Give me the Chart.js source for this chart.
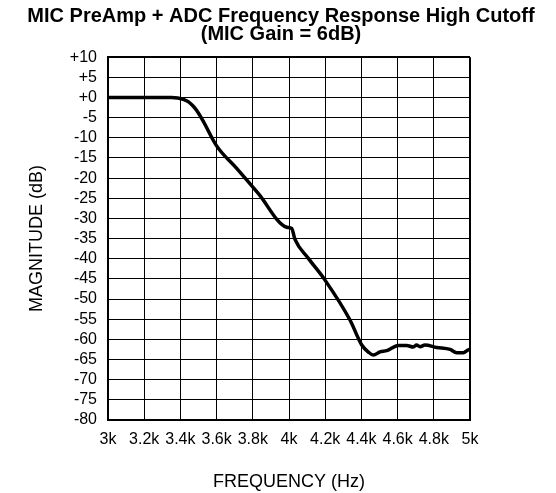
<!DOCTYPE html>
<html>
<head>
<meta charset="utf-8">
<script src="https://cdn.jsdelivr.net/npm/chart.js@4/dist/chart.umd.min.js"></script>
<style>
  html, body { margin: 0; padding: 0; background: #fff; }
  #wrap { width: 556px; height: 493px; }
</style>
</head>
<body>
<div id="wrap"><canvas id="respChart" width="556" height="493"></canvas></div>
<script>
// frequency (Hz) and magnitude (dB)
const freqs = [3000, 3200, 3350, 3385, 3420, 3445, 3470, 3490, 3510, 3530, 3600, 3711, 3830, 3987, 4015, 4033, 4107, 4199, 4337, 4402, 4440, 4466, 4503, 4540, 4604, 4650, 4687, 4705, 4724, 4751, 4816, 4890, 4926, 4963, 4991, 5000];
const magnitude = [0, 0, 0, -0.1, -0.5, -1.1, -2.1, -3.2, -4.6, -6.2, -12, -17.6, -23.8, -32.2, -32.5, -35.2, -39.9, -45.3, -55.2, -61.4, -63.2, -63.9, -63.1, -62.8, -61.5, -61.5, -61.9, -61.4, -61.8, -61.4, -62, -62.5, -63.3, -63.3, -62.6, -62.5];
const xTicks = [3000, 3200, 3400, 3600, 3800, 4000, 4200, 4400, 4600, 4800, 5000];
const yMin = -80, yMax = 10;

const font = "'Liberation Sans', Arial, sans-serif";

const points = freqs.map((f, i) => ({ x: f, y: magnitude[i] }));

const edgeWidth = (ctx, lo, hi) => {
  const v = ctx.tick ? ctx.tick.value : null;
  return (v === lo || v === hi) ? 2 : 1;
};

new Chart(document.getElementById("respChart"), {
  type: "line",
  data: {
    datasets: [{
      data: points,
      borderColor: "#000",
      borderWidth: 3.5,
      pointRadius: 0,
      fill: false,
      cubicInterpolationMode: "monotone"
    }]
  },
  options: {
    responsive: false,
    animation: false,
    layout: { padding: { left: 6, right: 0, top: 0, bottom: 0 } },
    plugins: {
      legend: { display: false },
      tooltip: { enabled: false },
      title: {
        display: true,
        text: ["MIC PreAmp + ADC Frequency Response High Cutoff", "(MIC Gain = 6dB)"],
        color: "#000",
        font: { family: font, size: 20, weight: "bold", lineHeight: 0.88 },
        padding: { top: 8, bottom: 14 }
      }
    },
    scales: {
      x: {
        type: "linear",
        min: 3000,
        max: 5000,
        afterBuildTicks: (scale) => { scale.ticks = xTicks.map(v => ({ value: v })); },
        afterFit: (scale) => { scale.height = 73; },
        ticks: {
          color: "#000",
          padding: 10,
          maxRotation: 0,
          autoSkip: false,
          font: { family: font, size: 16 },
          callback: (v) => (v / 1000) + "k"
        },
        grid: {
          color: "#000",
          lineWidth: (ctx) => edgeWidth(ctx, 3000, 5000),
          drawTicks: false
        },
        border: { color: "#000", width: 2 },
        title: {
          display: true,
          text: "FREQUENCY (Hz)",
          color: "#000",
          font: { family: font, size: 18 },
          padding: { top: 0, bottom: 0 }
        }
      },
      y: {
        min: yMin,
        max: yMax,
        afterFit: (scale) => { scale.width = 102; },
        ticks: {
          stepSize: 5,
          color: "#000",
          padding: 11,
          autoSkip: false,
          font: { family: font, size: 16 },
          callback: (v) => (v >= 0 ? "+" : "") + v
        },
        grid: {
          color: "#000",
          lineWidth: (ctx) => edgeWidth(ctx, yMin, yMax),
          drawTicks: false
        },
        border: { color: "#000", width: 2 },
        title: {
          display: true,
          text: "MAGNITUDE (dB)",
          color: "#000",
          font: { family: font, size: 18 },
          padding: { top: 20, bottom: 0 }
        }
      },
      // empty right-hand strip so the title stays centred on the page
      yRight: {
        position: "right",
        min: yMin,
        max: yMax,
        afterFit: (scale) => { scale.width = 86; },
        ticks: { display: false },
        grid: { display: false, drawOnChartArea: false },
        border: { display: false }
      }
    }
  }
});
</script>
</body>
</html>
